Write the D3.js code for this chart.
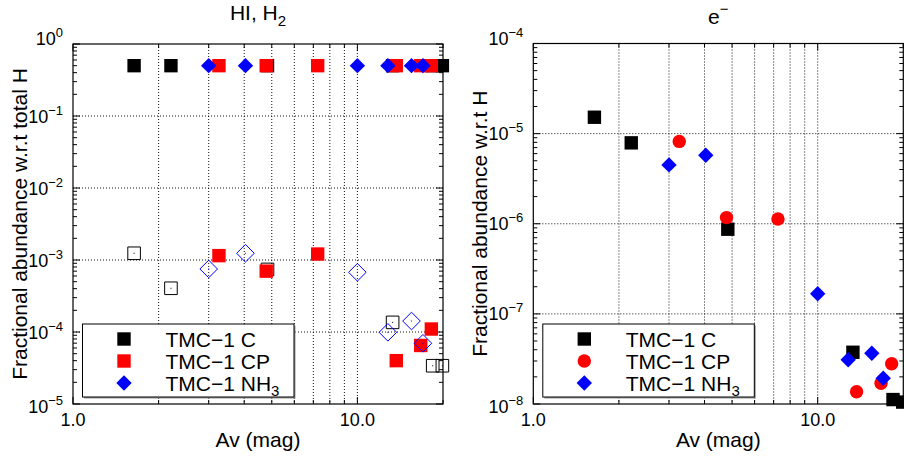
<!DOCTYPE html>
<html><head><meta charset="utf-8">
<script src="https://cdn.jsdelivr.net/npm/d3@7"></script>
<style>
body{margin:0;background:#fff}
svg{display:block}
text{font-family:"Liberation Sans",Arial,Helvetica,sans-serif;fill:#000}
</style>
</head><body>
<svg id="c" width="904" height="460"></svg>
<script>
// ---------------- data ----------------
const seriesNames = ["TMC\u22121 C", "TMC\u22121 CP", "TMC\u22121 NH"];
const xTickValues = [1, 10];
const xTickLabels = ["1.0", "10.0"];
const leftYExponents = [0, -1, -2, -3, -4, -5];
const rightYExponents = [-4, -5, -6, -7, -8];

// TMC-1 C
const avC  = [1.64, 2.21, 4.83, 13.3, 18.4, 19.9];
const h2C  = [0.5, 0.5, 0.5, 0.5, 0.5, 0.5];
const hiC  = [1.24e-3, 4.05e-4, 7.4e-4, 1.36e-4, 3.4e-5, 3.4e-5];
const eC   = [1.52e-5, 7.9e-6, 8.7e-7, 3.75e-8, 1.12e-8, 1.05e-8];
// TMC-1 CP
const avCP = [3.26, 4.78, 7.25, 13.7, 16.7, 18.2];
const h2CP = [0.5, 0.5, 0.5, 0.5, 0.5, 0.5];
const hiCP = [1.15e-3, 7.0e-4, 1.21e-3, 4.0e-5, 6.5e-5, 1.1e-4];
const eCP  = [8.2e-6, 1.17e-6, 1.13e-6, 1.37e-8, 1.7e-8, 2.8e-8];
// TMC-1 NH3
const avNH3 = [3.0, 4.04, 10.0, 12.8, 15.5, 17.0];
const h2NH3 = [0.5, 0.5, 0.5, 0.5, 0.5, 0.5];
const hiNH3 = [7.5e-4, 1.24e-3, 6.75e-4, 9.9e-5, 1.42e-4, 6.97e-5];
const eNH3  = [4.5e-6, 5.75e-6, 1.67e-7, 3.1e-8, 3.65e-8, 1.93e-8];

// ---------------- helpers ----------------
const svg = d3.select("#c");
const BLACK = "#000", RED = "#ff0000", BLUE = "#0000ff";

function sqPath(s){ const h=s/2; return `M${-h},${-h}H${h}V${h}H${-h}Z`; }
function diaPath(h){ return `M0,${-h}L${h},0L0,${h}L${-h},0Z`; }
function markerPath(type){
  if(type==="square") return sqPath(13.4);
  if(type==="hsquare") return sqPath(12.6);
  if(type==="diamond") return diaPath(7.7);
  if(type==="hdiamond") return diaPath(8.8);
  if(type==="circle") return d3.arc()({innerRadius:0,outerRadius:6.7,startAngle:0,endAngle:2*Math.PI});
}
function drawMarker(g, type, color, cx, cy){
  const hollow = type[0]==="h";
  g.append("path").attr("d", markerPath(type))
    .attr("transform", `translate(${cx},${cy})`)
    .attr("fill", hollow ? "none" : color)
    .attr("stroke", hollow ? color : "none")
    .attr("stroke-width", hollow ? 1 : 0);
  if(hollow){
    g.append("rect").attr("x", cx-0.5).attr("y", cy-0.5).attr("width",1).attr("height",1).attr("fill",color);
  }
}

function panel(o){
  const g = svg.append("g");
  const x = d3.scaleLog().domain([1, 20]).range([o.x0, o.x1]);
  const y = d3.scaleLog().domain([o.yMin, o.yMax]).range([o.yB, o.yT]);

  // grid
  const gridX = [2,3,4,5,6,7,8,9,10];
  g.append("g").selectAll("line").data(gridX).join("line")
    .attr("x1", d=>x(d)).attr("x2", d=>x(d)).attr("y1", o.yT).attr("y2", o.yB)
    .attr("stroke", "#111").attr("stroke-width", 1).attr("stroke-dasharray","1,2");
  const gridY = o.exps.slice(1, -1).map(e=>Math.pow(10,e));
  g.append("g").selectAll("line").data(gridY).join("line")
    .attr("x1", o.x0).attr("x2", o.x1).attr("y1", d=>y(d)).attr("y2", d=>y(d))
    .attr("stroke", "#111").attr("stroke-width", 1).attr("stroke-dasharray","1,2");

  // ticks (inward, all sides)
  const tk = g.append("g").attr("stroke", BLACK).attr("stroke-width", 1);
  const xMinor = [2,3,4,5,6,7,8,9,20];
  xMinor.forEach(v=>{
    tk.append("line").attr("x1",x(v)).attr("x2",x(v)).attr("y1",o.yB).attr("y2",o.yB-4);
    tk.append("line").attr("x1",x(v)).attr("x2",x(v)).attr("y1",o.yT).attr("y2",o.yT+4);
  });
  xTickValues.forEach(v=>{
    tk.append("line").attr("x1",x(v)).attr("x2",x(v)).attr("y1",o.yB).attr("y2",o.yB-7);
    tk.append("line").attr("x1",x(v)).attr("x2",x(v)).attr("y1",o.yT).attr("y2",o.yT+7);
  });
  const eMin = d3.min(o.exps), eMax = d3.max(o.exps);
  for(let e=eMin; e<=eMax; e++){
    const base = Math.pow(10,e);
    tk.append("line").attr("x1",o.x0).attr("x2",o.x0+7).attr("y1",y(base)).attr("y2",y(base));
    tk.append("line").attr("x1",o.x1).attr("x2",o.x1-7).attr("y1",y(base)).attr("y2",y(base));
    if(e<eMax){
      for(let m=2;m<=9;m++){
        const v=m*base;
        tk.append("line").attr("x1",o.x0).attr("x2",o.x0+4).attr("y1",y(v)).attr("y2",y(v));
        tk.append("line").attr("x1",o.x1).attr("x2",o.x1-4).attr("y1",y(v)).attr("y2",y(v));
      }
    }
  }

  // frame
  g.append("rect").attr("x",o.x0).attr("y",o.yT).attr("width",o.x1-o.x0).attr("height",o.yB-o.yT)
    .attr("fill","none").attr("stroke",BLACK).attr("stroke-width",1.2);

  // x tick labels
  g.append("g").selectAll("text").data(xTickValues).join("text")
    .attr("x", d=>x(d)).attr("y", o.yB+22).attr("text-anchor","middle")
    .attr("font-size", 18).text((d,i)=>xTickLabels[i]);

  // y tick labels
  o.exps.forEach((e,i)=>{
    const dy = i===0 ? 1 : (i===o.exps.length-1 ? 8.5 : 6.5);
    const t = g.append("text").attr("x", o.x0-10).attr("y", y(Math.pow(10,e))+dy)
      .attr("text-anchor","end").attr("font-size",18);
    t.append("tspan").text("10");
    t.append("tspan").attr("font-size",13).attr("dy",-8).text(e<0 ? "\u2212"+(-e) : String(e));
  });

  // axis labels
  g.append("text").attr("x",(o.x0+o.x1)/2).attr("y",447).attr("text-anchor","middle")
    .attr("font-size",21).text("Av (mag)");
  g.append("text").attr("transform",`translate(${o.x0-46},${(o.yT+o.yB)/2}) rotate(-90)`)
    .attr("text-anchor","middle").attr("font-size",21).text(o.ylabel);

  // title
  o.title(g.append("text").attr("x",(o.x0+o.x1)/2).attr("y",o.titleY).attr("text-anchor","middle").attr("font-size",21));

  // markers
  const mg = g.append("g");
  o.marks.forEach(s=>{
    s.xs.forEach((xv,i)=>drawMarker(mg, s.type, s.color, x(xv), y(s.ys[i])));
  });

  // legend
  const lx = o.x0+9.5, ly = o.yB-80, lw = 211.5, lh = 73;
  const lg = g.append("g");
  lg.append("rect").attr("x",lx+1.5).attr("y",ly+1.5).attr("width",lw).attr("height",lh).attr("fill","#999");
  lg.append("rect").attr("x",lx).attr("y",ly).attr("width",lw).attr("height",lh)
    .attr("fill","#fff").attr("stroke",BLACK).attr("stroke-width",1);
  o.legend.forEach((L,i)=>{
    const cy = ly+15+i*22;
    drawMarker(lg, L.type, L.color, lx+41.5, cy);
    const t = lg.append("text").attr("x",lx+83).attr("y",cy+7.5).attr("font-size",21);
    t.append("tspan").text(seriesNames[i]);
    if(i===2) t.append("tspan").attr("font-size",15).attr("dy",5).text("3");
  });
}

// ---------------- left panel ----------------
panel({
  x0:73, x1:443, yT:44, yB:404, yMin:1e-5, yMax:1, exps:leftYExponents,
  ylabel:"Fractional abundance w.r.t total H", titleY:20,
  title:t=>{ t.append("tspan").text("HI, H"); t.append("tspan").attr("font-size",15).attr("dy",6).text("2"); },
  marks:[
    {xs:avC, ys:hiC, type:"hsquare", color:BLACK},
    {xs:avC, ys:h2C, type:"square", color:BLACK},
    {xs:avCP, ys:hiCP, type:"square", color:RED},
    {xs:avCP, ys:h2CP, type:"square", color:RED},
    {xs:avNH3, ys:hiNH3, type:"hdiamond", color:BLUE},
    {xs:avNH3, ys:h2NH3, type:"diamond", color:BLUE}
  ],
  legend:[{type:"square",color:BLACK},{type:"square",color:RED},{type:"diamond",color:BLUE}]
});

// ---------------- right panel ----------------
panel({
  x0:533.3, x1:903.3, yT:43.5, yB:404, yMin:1e-8, yMax:1e-4, exps:rightYExponents,
  ylabel:"Fractional abundance w.r.t H", titleY:24,
  title:t=>{ t.append("tspan").text("e"); t.append("tspan").attr("font-size",15).attr("dy",-10).text("\u2212"); },
  marks:[
    {xs:avC, ys:eC, type:"square", color:BLACK},
    {xs:avCP, ys:eCP, type:"circle", color:RED},
    {xs:avNH3, ys:eNH3, type:"diamond", color:BLUE}
  ],
  legend:[{type:"square",color:BLACK},{type:"circle",color:RED},{type:"diamond",color:BLUE}]
});
</script>
</body></html>
